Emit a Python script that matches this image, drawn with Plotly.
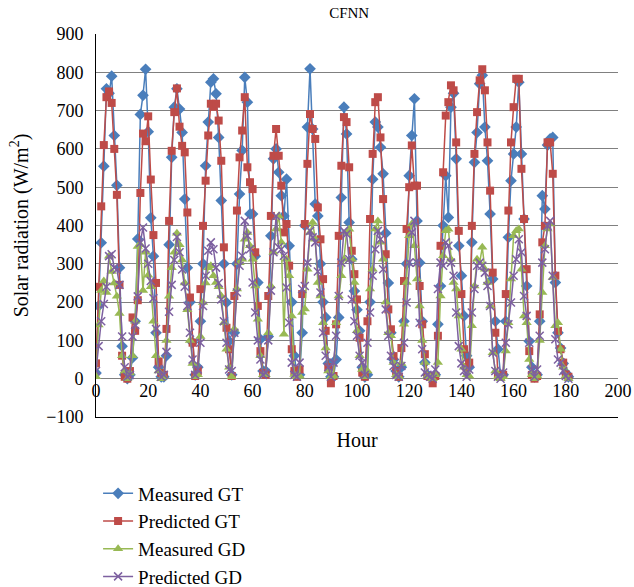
import plotly.graph_objects as go

# Hourly samples over 14 days (13 daylight hours per day)
hours = list(range(182))

measured_gt = [
    15, 190, 355, 555, 757, 745, 790, 635, 505, 290, 85, 10, 0,
    10, 55, 150, 365, 690, 740, 808, 645, 420, 320, 120, 30, 5,
    5, 60, 350, 578, 709, 757, 704, 643, 469, 290, 200, 95, 10,
    30, 150, 300, 556, 670, 774, 783, 744, 630, 465, 300, 199, 98,
    10, 120, 300, 482, 596, 787, 722, 430, 430, 320, 251, 103, 20,
    20, 110, 373, 574, 600, 539, 478, 425, 521, 347, 200, 60, 10,
    10, 120, 400, 657, 809, 652, 456, 425, 300, 200, 160, 40, 5,
    5, 50, 160, 473, 709, 639, 408, 312, 229, 180, 125, 30, 5,
    10, 200, 521, 670, 657, 604, 535, 380, 250, 120, 50, 20, 5,
    30, 150, 300, 530, 635, 731, 412, 303, 150, 42, 10, 5, 0,
    10, 142, 242, 400, 530, 421, 709, 745, 574, 347, 269, 164, 60,
    30, 356, 565, 643, 770, 792, 657, 569, 430, 260, 150, 77, 10,
    10, 150, 369, 517, 587, 657, 774, 587, 417, 242, 98, 30, 5,
    10, 150, 478, 443, 610, 626, 630, 251, 120, 80, 40, 15, 5,
]

predicted_gt = [
    40, 240, 450, 610, 735, 750, 720, 600, 480, 245, 60, 5, 0,
    20, 160, 125, 205, 485, 640, 620, 685, 520, 375, 250, 45, 15,
    10, 130, 412, 595, 696, 758, 658, 608, 591, 434, 212, 94, 7,
    20, 234, 399, 517, 635, 718, 710, 718, 674, 569, 343, 133, 77,
    7, 216, 439, 578, 648, 735, 552, 513, 495, 330, 190, 72, 15,
    10, 216, 425, 582, 652, 582, 504, 382, 404, 295, 77, 20, 5,
    24, 221, 404, 561, 691, 652, 626, 447, 364, 260, 125, 30, -12,
    7, 142, 373, 556, 683, 670, 552, 334, 273, 207, 107, 16, 5,
    150, 417, 587, 722, 735, 630, 469, 325, 181, 129, 59, 20, 5,
    80, 255, 391, 500, 609, 504, 504, 242, 142, 64, 7, 5, -12,
    7, 112, 347, 539, 687, 722, 766, 753, 617, 386, 221, 77, 30,
    42, 399, 587, 696, 779, 808, 753, 617, 491, 277, 120, 7, 5,
    10, 221, 439, 617, 709, 783, 783, 548, 417, 286, 72, 10, 0,
    7, 168, 356, 399, 617, 617, 535, 269, 125, 77, 42, 11, 5,
]

measured_gd = [
    5, 140, 230, 255, 225, 320, 280, 250, 215, 170, 60, 20, 0,
    15, 60, 150, 345, 350, 230, 330, 270, 240, 150, 60, 20, 0,
    5, 100, 215, 290, 330, 380, 350, 310, 250, 180, 100, 40, 5,
    10, 110, 199, 250, 290, 295, 269, 251, 240, 216, 146, 77, 30,
    5, 130, 234, 303, 312, 364, 382, 347, 312, 242, 155, 60, 10,
    10, 120, 242, 330, 391, 425, 356, 116, 312, 269, 164, 11, 5,
    7, 173, 182, 286, 382, 408, 364, 251, 216, 146, 80, 20, 5,
    7, 146, 216, 269, 312, 382, 390, 312, 251, 125, 60, 24, 5,
    20, 234, 286, 391, 412, 356, 312, 200, 120, 112, 42, 10, 5,
    40, 142, 251, 373, 404, 347, 260, 190, 100, 42, 7, 5, 0,
    10, 42, 216, 321, 386, 390, 312, 251, 234, 164, 77, 30, 10,
    7, 138, 242, 312, 303, 343, 286, 251, 190, 68, 20, 5, 0,
    5, 72, 146, 260, 373, 386, 391, 286, 164, 146, 50, 10, 0,
    7, 100, 225, 347, 391, 404, 264, 138, 146, 77, 30, 7, 0,
]

predicted_gd = [
    20, 85, 150, 195, 240, 320, 325, 290, 285, 245, 110, 30, 5,
    10, 110, 140, 215, 355, 395, 340, 300, 255, 210, 130, 25, 5,
    10, 70, 175, 245, 310, 370, 330, 285, 240, 190, 120, 50, 10,
    24, 94, 190, 269, 334, 356, 338, 290, 250, 207, 150, 94, 24,
    20, 120, 225, 295, 321, 412, 373, 338, 251, 173, 100, 50, 10,
    15, 100, 230, 330, 425, 343, 338, 321, 238, 146, 42, 10, 5,
    42, 234, 242, 303, 386, 369, 356, 280, 225, 120, 60, 30, 5,
    42, 112, 216, 303, 386, 378, 312, 207, 150, 112, 60, 42, 10,
    94, 173, 269, 338, 386, 364, 286, 181, 112, 60, 33, 10, 5,
    33, 94, 199, 303, 382, 412, 303, 146, 77, 16, 10, 5, 0,
    24, 234, 303, 295, 356, 347, 303, 269, 173, 85, 40, 20, 5,
    24, 173, 234, 295, 303, 295, 277, 242, 190, 68, 20, 5, 0,
    16, 94, 142, 199, 269, 312, 364, 330, 216, 164, 94, 24, 5,
    24, 112, 303, 338, 399, 412, 269, 103, 50, 42, 20, 7, 0,
]

x_ticks = [0, 20, 40, 60, 80, 100, 120, 140, 160, 180, 200]
y_ticks = [-100, 0, 100, 200, 300, 400, 500, 600, 700, 800, 900]

FONT = "Liberation Serif, Times New Roman, serif"

series = [
    ("Measured GT", measured_gt, "#4A7EBB", "diamond", 9),
    ("Predicted GT", predicted_gt, "#BE4B48", "square", 8),
    ("Measured GD", measured_gd, "#98B954", "triangle-up", 9),
    ("Predicted GD", predicted_gd, "#7D60A0", "x-thin-open", 8),
]

fig = go.Figure()
for name, values, color, symbol, size in series:
    marker = dict(symbol=symbol, size=size, color=color)
    if symbol.endswith("open"):
        marker["line"] = dict(color=color, width=1.5)
    else:
        marker["line"] = dict(width=0)
    fig.add_trace(go.Scatter(
        x=hours, y=values, name=name, mode="lines+markers",
        line=dict(color=color, width=1.5), marker=marker,
    ))

fig.update_layout(
    width=634, height=587,
    margin=dict(l=96, r=16, t=34, b=170, autoexpand=False),
    paper_bgcolor="white", plot_bgcolor="white",
    font=dict(family=FONT, size=18, color="black"),
    title=dict(text="CFNN", font=dict(size=15, family=FONT, color="black"),
               x=0.485, xref="paper", y=1 - 13 / 587, yref="container",
               xanchor="center", yanchor="middle"),
    showlegend=True,
    legend=dict(orientation="v", x=0.004, xanchor="left", y=-0.15, yanchor="top",
                font=dict(size=19, family=FONT, color="black"),
                itemwidth=30, bgcolor="rgba(0,0,0,0)", tracegroupgap=0),
    xaxis=dict(range=[0, 200], tickvals=x_ticks, showgrid=False, zeroline=False,
               showline=True, linecolor="black", linewidth=1, ticks="",
               ticklabelstandoff=-43,
               title=dict(text="Hour", font=dict(size=20, family=FONT), standoff=33)),
    yaxis=dict(range=[-100, 900], tickvals=y_ticks, showgrid=True, gridcolor="#808080",
               gridwidth=1, zeroline=False, showline=True, linecolor="black", linewidth=1,
               ticks="", ticklabelstandoff=8,
               title=dict(text="Solar radiation (W/m<sup>2</sup>)",
                          font=dict(size=20, family=FONT), standoff=12)),
)

fig.write_html("out.html")
